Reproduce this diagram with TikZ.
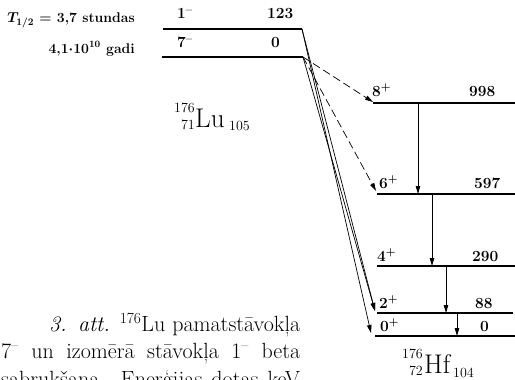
\documentclass[tikz,border=0pt]{standalone}
\usetikzlibrary{arrows.meta}
\begin{document}
\begin{tikzpicture}[x=1pt,y=-1pt,
  lvl/.style={line width=1.1pt},
  lab/.style={font=\fontsize{15.5}{15.5}\selectfont\bfseries\boldmath, inner sep=0pt, anchor=base west},
  hl/.style={font=\fontsize{14}{14}\selectfont\bfseries\boldmath, inner sep=0pt, anchor=base east},
  gam/.style={line width=0.8pt, -{Stealth[length=8pt,width=4.5pt,inset=0pt]}},
  betaarr/.style={line width=0.7pt, -{Stealth[length=8pt,width=4.5pt,inset=0pt]}},
  wbeta/.style={betaarr, dash pattern=on 8pt off 4pt},
  captxt/.style={font=\fontsize{22}{22}\selectfont, inner sep=0pt, anchor=base west},
  scr/.style={font=\fontsize{14}{14}\selectfont, inner sep=0pt},
  big/.style={font=\fontsize{27}{27}\selectfont, inner sep=0pt, anchor=base west}
]
\clip (0,0) rectangle (515,380);

% Lu levels
\coordinate (luAl) at (163,29); \coordinate (luAr) at (302,29);
\coordinate (luBl) at (162,57); \coordinate (luBr) at (303,57);
\draw[lvl] (luAl) -- (luAr);
\draw[lvl] (luBl) -- (luBr);

% Hf levels
\coordinate (h8l) at (373,103); \coordinate (h8r) at (515,103);
\coordinate (h6l) at (377,194); \coordinate (h6r) at (515,194);
\coordinate (h4l) at (377,266); \coordinate (h4r) at (515,266);
\coordinate (h2l) at (377,313); \coordinate (h2r) at (513,313);
\coordinate (h0l) at (375,336); \coordinate (h0r) at (515,336);
\draw[lvl] (h8l) -- (h8r);
\draw[lvl] (h6l) -- (h6r);
\draw[lvl] (h4l) -- (h4r);
\draw[lvl] (h2l) -- (h2r);
\draw[lvl] (h0l) -- (h0r);

% gamma transitions
\coordinate (g1a) at (418,103); \coordinate (g1b) at (418,194);
\coordinate (g2a) at (432,194); \coordinate (g2b) at (432,266);
\coordinate (g3a) at (446,266); \coordinate (g3b) at (446,313);
\coordinate (g4a) at (457,313); \coordinate (g4b) at (457,336);
\draw[gam] (g1a) -- (g1b);
\draw[gam] (g2a) -- (g2b);
\draw[gam] (g3a) -- (g3b);
\draw[gam] (g4a) -- (g4b);

% beta transitions
\coordinate (b0) at (371,333);
\coordinate (b2) at (375,311);
\coordinate (d8) at (373,102);
\coordinate (d6) at (376,191);
\draw[betaarr] (luAr) -- (b0);
\draw[betaarr] (luAr) -- (b2);
\draw[betaarr] (luBr) -- (b2);
\draw[wbeta] (luBr) -- (d8);
\draw[wbeta] (luBr) -- (d6);

% level labels
\node[lab] (s1) at (177,19) {1\textsuperscript{--}};
\node[lab] (e1) at (267,19) {123};
\node[lab] (s7) at (177,48) {7\textsuperscript{--}};
\node[lab] (e7) at (271,48) {0};
\node[lab] (s8) at (372,96) {8\textsuperscript{+}};
\node[lab] (e8) at (469,96) {998};
\node[lab] (s6) at (379,188) {6\textsuperscript{+}};
\node[lab] (e6) at (474,188) {597};
\node[lab] (s4) at (377,261) {4\textsuperscript{+}};
\node[lab] (e4) at (472,261) {290};
\node[lab] (s2) at (379,308) {2\textsuperscript{+}};
\node[lab] (e2) at (475,308) {88};
\node[lab] (s0) at (380,331) {0\textsuperscript{+}};
\node[lab] (e0) at (480,331) {0};

% half-lives
\node[hl] (thalf) at (135,23) {$T_{1/2}$ = 3,7 stundas};
\node[hl] (tgadi) at (135,53) {4,1$\cdot$10\textsuperscript{10} gadi};

% nuclide labels
\node[scr, anchor=base east] (lu176) at (195,112) {176};
\node[scr, anchor=base east] (lu71) at (195,129) {71};
\node[big] (lu) at (195,127) {Lu};
\node[scr, anchor=base west] (lu105) at (229,130) {105};
\node[scr, anchor=base east] (hf176) at (423,358) {176};
\node[scr, anchor=base east] (hf72) at (423,375) {72};
\node[big] (hf) at (424,373) {Hf};
\node[scr, anchor=base west] (hf104) at (453,377) {104};

% caption
\node[captxt] (c1) at (49,331) {\makebox[251pt][s]{\textit{3. att.} \textsuperscript{176}Lu pamatstāvokļa}};
\node[captxt] (c2) at (1,358) {\makebox[299pt][s]{7\textsuperscript{--} un izomērā stāvokļa 1\textsuperscript{--} beta}};
\node[captxt] (c3) at (1,386) {\makebox[299pt][s]{sabrukšana. Enerģijas dotas keV}};
\end{tikzpicture}
\end{document}
